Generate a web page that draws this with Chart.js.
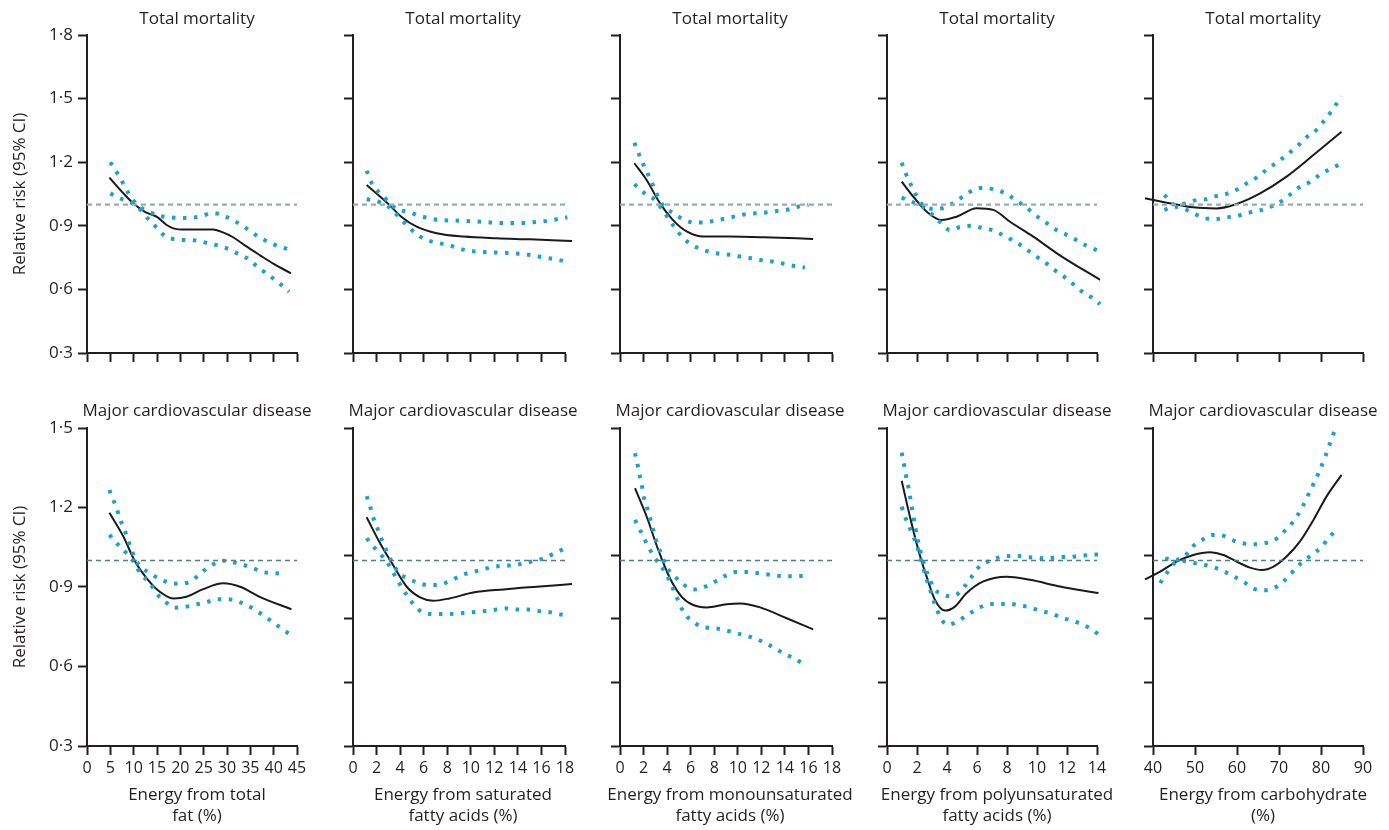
<!DOCTYPE html>
<html>
<head>
<meta charset="utf-8">
<title>Relative risk by energy source</title>
<script src="https://cdn.jsdelivr.net/npm/chart.js@4.4.1/dist/chart.umd.min.js"></script>
<style>
  body { margin: 0; background: #fff; }
  #page { position: relative; width: 1389px; height: 830px; overflow: hidden; }
  #page canvas { position: absolute; }
</style>
</head>
<body>
<div id="page"></div>
<script>
// ---- data ----
const rowTitles = ['Total mortality', 'Major cardiovascular disease'];
const xTitles = [
  ['Energy from total', 'fat (%)'],
  ['Energy from saturated', 'fatty acids (%)'],
  ['Energy from monounsaturated', 'fatty acids (%)'],
  ['Energy from polyunsaturated', 'fatty acids (%)'],
  ['Energy from carbohydrate', '(%)']
];
const xRanges = [[0, 45, 5], [0, 18, 2], [0, 18, 2], [0, 14, 2], [40, 90, 10]];
const yTitle = 'Relative risk (95% CI)';
const topYTicks = [0.3, 0.6, 0.9, 1.2, 1.5, 1.8];
const bottomYTicks = [0.3, 0.6, 0.9, 1.2, 1.5];
const bottomYTicksOther = [0.3, 0.54, 0.78, 1.02, 1.5];
const refValue = 1;

// total mortality
const fatMortRR = [[4.8,1.127],[7.5,1.06],[9.9,1.006],[12.5,0.965],[14.9,0.943],[17,0.905],[18.5,0.888],[21,0.882],[25,0.883],[27,0.882],[29,0.87],[31.3,0.846],[34,0.805],[37,0.762],[40,0.72],[43.7,0.676]];
const fatMortHi = [[5,1.2],[7,1.13],[9,1.05],[11,0.995],[13,0.97],[15,0.95],[18,0.94],[21,0.937],[24,0.943],[27,0.96],[29,0.95],[31,0.93],[34,0.89],[37,0.845],[40,0.812],[43,0.79]];
const fatMortLo = [[5,1.053],[7,1.03],[9,1.014],[11,0.985],[13,0.935],[15,0.89],[16.8,0.85],[19,0.836],[21,0.833],[23.5,0.83],[25.6,0.82],[27.6,0.81],[29.9,0.794],[32.2,0.77],[34.3,0.747],[36.5,0.707],[38.9,0.668],[41.2,0.629],[43.3,0.589]];

const satMortRR = [[1.16,1.092],[3.0,1.003],[4.1,0.943],[5.4,0.896],[7.1,0.865],[9.4,0.849],[12.2,0.841],[15,0.836],[18.6,0.828]];
const satMortHi = [[1.16,1.16],[1.6,1.1],[2.6,1.037],[3.7,0.98],[4.7,0.966],[5.5,0.95],[6.5,0.935],[7.4,0.927],[9.2,0.924],[11.1,0.918],[12.8,0.913],[14.6,0.913],[15.5,0.918],[16.3,0.922],[17.2,0.93],[18.2,0.94]];
const satMortLo = [[1.16,1.025],[2.15,1.014],[3.0,0.99],[4.1,0.93],[4.8,0.89],[5.6,0.853],[6.4,0.83],[7.4,0.817],[8.3,0.806],[9.2,0.79],[10.2,0.78],[11.1,0.776],[12.8,0.773],[13.8,0.77],[14.6,0.766],[15.5,0.758],[16.3,0.75],[17.2,0.742],[18.2,0.73]];

const monoMortRR = [[1.22,1.195],[2.26,1.116],[3.4,1.006],[4.5,0.927],[5.7,0.872],[7.1,0.849],[9.3,0.849],[12.2,0.846],[16.4,0.838]];
const monoMortHi = [[1.22,1.292],[1.56,1.245],[1.9,1.2],[2.26,1.157],[2.6,1.116],[3.1,1.053],[3.6,1.0],[4.5,0.96],[5.4,0.93],[6.3,0.915],[7.1,0.915],[8.0,0.924],[9.0,0.935],[9.9,0.946],[10.7,0.955],[12.4,0.963],[13.3,0.97],[14.3,0.977],[15.1,0.99],[16.0,0.998]];
const monoMortLo = [[1.22,1.096],[2.1,1.053],[3.0,1.02],[3.8,0.96],[4.7,0.888],[5.3,0.846],[6.1,0.81],[6.9,0.79],[7.8,0.774],[8.7,0.766],[9.6,0.762],[10.5,0.751],[11.3,0.746],[12.3,0.735],[13.1,0.73],[14.0,0.72],[14.8,0.71],[15.7,0.703]];

const polyMortRR = [[0.98,1.108],[1.76,1.037],[2.64,0.967],[3.64,0.927],[4.64,0.943],[5.98,0.983],[7.09,0.975],[8.2,0.919],[9.75,0.849],[11.5,0.762],[14.2,0.645]];
const polyMortHi = [[0.98,1.198],[1.2,1.155],[1.5,1.108],[1.76,1.07],[2.27,1.006],[2.98,0.98],[3.7,0.983],[4.4,1.006],[5.1,1.04],[5.8,1.07],[6.5,1.08],[7.2,1.07],[7.9,1.053],[8.6,1.02],[9.3,0.986],[9.9,0.95],[10.6,0.915],[11.3,0.88],[12.0,0.857],[12.7,0.83],[13.3,0.806],[14.0,0.785]];
const polyMortLo = [[0.98,1.033],[1.65,1.013],[2.3,0.994],[2.98,0.955],[3.5,0.92],[4.2,0.88],[4.9,0.895],[5.7,0.9],[6.3,0.89],[7.0,0.88],[7.7,0.857],[8.4,0.83],[9.1,0.8],[9.8,0.762],[10.5,0.73],[11.1,0.695],[11.8,0.66],[12.5,0.62],[13.1,0.585],[13.8,0.555],[14.2,0.53]];

const carbMortRR = [[38.1,1.03],[44,1.006],[49.6,0.987],[55.1,0.982],[59.9,1.003],[65.5,1.053],[71.8,1.132],[78.2,1.234],[84.9,1.344]];
const carbMortHi = [[42.7,1.045],[45.2,1.0],[47.6,1.005],[50,1.02],[52.5,1.025],[55,1.04],[57.4,1.05],[59.9,1.07],[62.3,1.1],[64.8,1.13],[67.2,1.167],[69.6,1.2],[72.2,1.24],[74.6,1.28],[76.7,1.32],[78.8,1.35],[80.5,1.39],[82.1,1.43],[83.5,1.47],[84.9,1.51]];
const carbMortLo = [[42.7,0.975],[45.2,0.99],[47.6,0.978],[50,0.955],[52.5,0.935],[55,0.932],[57.5,0.94],[60,0.946],[62.4,0.96],[65,0.97],[67.4,0.985],[69.8,1.006],[72.2,1.04],[74.7,1.08],[77.2,1.105],[79.7,1.14],[82.1,1.167],[84.5,1.19]];

// major cardiovascular disease
const fatCvdRR = [[4.8,1.18],[7.8,1.09],[10.3,0.996],[12.8,0.933],[15.6,0.882],[18.5,0.857],[21.3,0.863],[24.9,0.892],[29.2,0.914],[32.8,0.901],[37,0.863],[43.8,0.816]];
const fatCvdHi = [[4.8,1.266],[5.6,1.23],[6.3,1.2],[7.0,1.16],[7.8,1.126],[8.6,1.088],[9.3,1.052],[10.3,1.007],[11.3,0.98],[13.5,0.952],[16,0.927],[18.1,0.914],[20.3,0.912],[22.7,0.927],[24.6,0.956],[27.1,0.986],[29.3,0.999],[31.2,0.994],[33.4,0.984],[35.8,0.969],[37.8,0.956],[40.3,0.952],[42.4,0.95]];
const fatCvdLo = [[4.8,1.097],[6.5,1.063],[8.1,1.034],[9.8,1.0],[11.5,0.95],[13.5,0.914],[14.9,0.876],[16.8,0.844],[18.8,0.822],[21.3,0.826],[23.6,0.835],[25.8,0.844],[27.9,0.854],[30.3,0.854],[32.2,0.846],[34.3,0.831],[36.5,0.808],[38.6,0.783],[41,0.752],[43.3,0.723]];

const satCvdRR = [[1.16,1.163],[2.3,1.065],[3.4,0.983],[4.56,0.901],[5.7,0.861],[6.8,0.848],[8.2,0.857],[10.2,0.879],[12.8,0.891],[15.6,0.901],[18.6,0.911]];
const satCvdHi = [[1.16,1.243],[1.44,1.206],[1.67,1.168],[2.0,1.13],[2.9,1.03],[3.9,0.953],[4.7,0.932],[5.6,0.914],[6.5,0.907],[7.4,0.91],[8.3,0.923],[9.2,0.945],[10.2,0.957],[11.0,0.966],[11.9,0.976],[12.8,0.98],[13.6,0.982],[14.5,0.989],[15.4,0.999],[16.2,1.008],[17.1,1.027],[18.0,1.046]];
const satCvdLo = [[1.16,1.084],[1.73,1.053],[2.29,1.025],[2.86,0.996],[3.85,0.92],[4.7,0.861],[5.26,0.828],[5.97,0.803],[6.96,0.798],[7.8,0.798],[8.8,0.8],[9.65,0.803],[10.5,0.806],[11.35,0.81],[12.2,0.815],[13.1,0.819],[13.95,0.815],[14.8,0.815],[15.65,0.81],[16.58,0.806],[17.4,0.798],[18.28,0.792]];

const monoCvdRR = [[1.27,1.273],[2.26,1.166],[3.25,1.04],[4.24,0.933],[5.24,0.863],[6.22,0.832],[7.36,0.823],[9.05,0.835],[10.2,0.838],[11.9,0.823],[14.15,0.782],[16.4,0.74]];
const monoCvdHi = [[1.27,1.405],[1.47,1.367],[1.64,1.327],[1.84,1.289],[1.98,1.247],[2.26,1.206],[2.49,1.168],[2.74,1.13],[2.97,1.09],[3.4,1.035],[3.96,0.975],[4.67,0.939],[5.43,0.908],[6.28,0.891],[7.22,0.901],[8.15,0.922],[9.05,0.945],[9.9,0.957],[10.75,0.957],[11.6,0.953],[12.45,0.948],[13.35,0.942],[14.3,0.941],[15.14,0.941],[16.0,0.945]];
const monoCvdLo = [[1.27,1.153],[1.7,1.115],[2.12,1.077],[2.55,1.04],[2.97,1.008],[3.4,0.985],[3.96,0.945],[4.24,0.92],[4.86,0.857],[5.43,0.803],[6.17,0.77],[6.9,0.751],[7.86,0.745],[8.77,0.739],[9.56,0.729],[10.4,0.72],[11.32,0.708],[12.2,0.692],[13.1,0.67],[13.95,0.648],[14.85,0.629],[15.76,0.604]];

const polyCvdRR = [[0.98,1.301],[1.53,1.165],[2.09,1.04],[2.64,0.939],[3.2,0.851],[3.87,0.811],[4.53,0.826],[5.31,0.877],[6.42,0.921],[7.98,0.939],[9.53,0.927],[11.53,0.902],[14.1,0.877]];
const polyCvdHi = [[0.98,1.407],[1.13,1.364],[1.27,1.319],[1.42,1.279],[1.6,1.22],[1.9,1.12],[2.3,1.02],[2.7,0.95],[3.2,0.89],[3.6,0.876],[4.09,0.866],[4.6,0.87],[5.09,0.897],[5.53,0.929],[5.98,0.967],[6.6,0.992],[7.27,1.008],[7.98,1.017],[8.64,1.017],[9.36,1.013],[10.0,1.01],[10.7,1.008],[11.4,1.013],[12.1,1.013],[12.76,1.017],[13.5,1.021],[14.15,1.023]];
const polyCvdLo = [[0.98,1.203],[1.2,1.165],[1.49,1.128],[1.76,1.09],[2.02,1.052],[2.42,0.97],[2.87,0.89],[3.36,0.81],[4.02,0.757],[4.76,0.773],[5.53,0.801],[6.2,0.823],[6.9,0.836],[7.53,0.836],[8.2,0.836],[8.87,0.83],[9.53,0.823],[10.2,0.81],[10.9,0.801],[11.58,0.786],[12.3,0.773],[12.98,0.76],[13.7,0.738],[14.2,0.716]];

const carbCvdRR = [[38.1,0.929],[41.7,0.958],[45.6,0.996],[49.6,1.021],[53.6,1.031],[56.75,1.021],[59.9,0.996],[63.1,0.973],[65.9,0.964],[68.7,0.977],[71.8,1.015],[75,1.072],[78.2,1.153],[81.3,1.241],[84.9,1.323]];
const carbCvdHi = [[42.9,1.008],[45.2,1.002],[47.4,1.014],[49.4,1.052],[51.6,1.077],[54,1.096],[56.5,1.094],[58.9,1.077],[61.3,1.065],[63.9,1.061],[66.4,1.065],[68.9,1.077],[71.2,1.109],[73.4,1.147],[75.6,1.203],[77.5,1.266],[79.4,1.329],[81.0,1.392],[82.3,1.449],[83.6,1.505]];
const carbCvdLo = [[41.7,0.915],[43.3,0.953],[45.2,0.991],[47.4,0.998],[49.6,0.991],[51.8,0.985],[54.2,0.976],[56.75,0.96],[59.1,0.941],[61.7,0.918],[64.1,0.893],[66.5,0.888],[69,0.897],[71.4,0.926],[73.4,0.96],[75.2,0.989],[77.7,1.02],[80.2,1.052],[81.7,1.083],[83.6,1.115]];

const series = [
  [[fatMortRR, fatMortHi, fatMortLo], [satMortRR, satMortHi, satMortLo], [monoMortRR, monoMortHi, monoMortLo], [polyMortRR, polyMortHi, polyMortLo], [carbMortRR, carbMortHi, carbMortLo]],
  [[fatCvdRR, fatCvdHi, fatCvdLo], [satCvdRR, satCvdHi, satCvdLo], [monoCvdRR, monoCvdHi, monoCvdLo], [polyCvdRR, polyCvdHi, polyCvdLo], [carbCvdRR, carbCvdHi, carbCvdLo]]
];

// ---- layout ----
const ink = '#231f20';
const ciColor = '#1ea0cc';
const axisLefts = [87, 353, 620, 887, 1153];
const plotWidths = [210, 212, 212, 210, 210];
const yAxisWidth = 80;
const canvasWidth = 380;
// x title: 2 lines of 17px * 1.25 plus 3px bottom padding
const xTitleHeight = 2 * 17 * 1.25 + 3;
const rows = [
  { top: 9, height: 360, titleGap: 5.6, xAxisHeight: 16, yMax: 1.8, refColor: '#9aabad', refWidth: 2.2 },
  { top: 401, height: 429, titleGap: 6.6, xAxisHeight: 429 - 345 - xTitleHeight, yMax: 1.5, refColor: '#4f7d88', refWidth: 1.4 }
];

Chart.defaults.font.family = "'Open Sans', 'Noto Sans', sans-serif";
Chart.defaults.color = ink;

const fmt = v => v.toFixed(1).replace('.', '\u00b7');
const toXY = pts => pts.map(([x, y]) => ({ x, y }));
const page = document.getElementById('page');

rows.forEach((row, r) => {
  axisLefts.forEach((axisX, c) => {
    const canvas = document.createElement('canvas');
    canvas.width = canvasWidth;
    canvas.height = row.height;
    canvas.style.left = (axisX - yAxisWidth) + 'px';
    canvas.style.top = row.top + 'px';
    page.appendChild(canvas);

    const [xmin, xmax, xstep] = xRanges[c];
    const [rr, hi, lo] = series[r][c];
    const first = c === 0;
    const bottom = r === 1;
    const yTicks = r === 0 ? topYTicks : (first ? bottomYTicks : bottomYTicksOther);
    const rightSpace = canvasWidth - yAxisWidth - plotWidths[c];

    const ciSet = pts => ({
      data: toXY(pts),
      borderColor: ciColor,
      borderWidth: 4,
      borderDash: [3.5, 7.5],
      pointRadius: 0,
      cubicInterpolationMode: 'monotone',
      clip: false
    });

    new Chart(canvas, {
      type: 'line',
      data: {
        datasets: [
          {
            data: [{ x: xmin, y: refValue }, { x: xmax, y: refValue }],
            borderColor: row.refColor,
            borderWidth: row.refWidth,
            borderDash: [5, 4],
            pointRadius: 0
          },
          ciSet(hi),
          ciSet(lo),
          {
            data: toXY(rr),
            borderColor: '#1a1a1a',
            borderWidth: 2,
            pointRadius: 0,
            cubicInterpolationMode: 'monotone',
            clip: false
          }
        ]
      },
      options: {
        responsive: false,
        animation: false,
        devicePixelRatio: 1,
        layout: { padding: 0 },
        plugins: {
          legend: { display: false },
          tooltip: { enabled: false },
          title: {
            display: true,
            text: rowTitles[r],
            font: { size: 17, weight: 'normal', lineHeight: 1.2 },
            color: ink,
            padding: { top: 0, bottom: row.titleGap }
          },
          subtitle: {
            display: bottom,
            position: 'bottom',
            text: xTitles[c],
            font: { size: 17, weight: 'normal', lineHeight: 1.25 },
            color: ink,
            padding: { top: 0, bottom: 3 }
          }
        },
        scales: {
          x: {
            type: 'linear',
            min: xmin,
            max: xmax,
            afterFit: s => { s.height = row.xAxisHeight; },
            ticks: {
              display: bottom,
              stepSize: xstep,
              autoSkip: false,
              maxRotation: 0,
              padding: 4,
              color: ink,
              font: { size: 16 }
            },
            grid: { drawOnChartArea: false, drawTicks: true, tickLength: 9, tickWidth: 2, tickColor: ink },
            border: { display: true, color: ink, width: 2 }
          },
          y: {
            type: 'linear',
            min: 0.3,
            max: row.yMax,
            afterFit: s => { s.width = yAxisWidth; },
            afterBuildTicks: s => { s.ticks = yTicks.map(v => ({ value: v })); },
            ticks: {
              display: first,
              padding: 5,
              color: ink,
              font: { size: 17 },
              callback: v => fmt(v)
            },
            grid: { drawOnChartArea: false, drawTicks: true, tickLength: 9, tickWidth: 2, tickColor: ink },
            border: { display: true, color: ink, width: 2 },
            title: {
              display: first,
              text: yTitle,
              color: ink,
              font: { size: 17 },
              padding: { top: 3, bottom: 0 }
            }
          },
          // empty right-hand axis that only reserves the space beside the plot
          spacer: {
            type: 'linear',
            position: 'right',
            afterFit: s => { s.width = rightSpace; },
            ticks: { display: false },
            grid: { display: false },
            border: { display: false }
          }
        }
      }
    });
  });
});
</script>
</body>
</html>
